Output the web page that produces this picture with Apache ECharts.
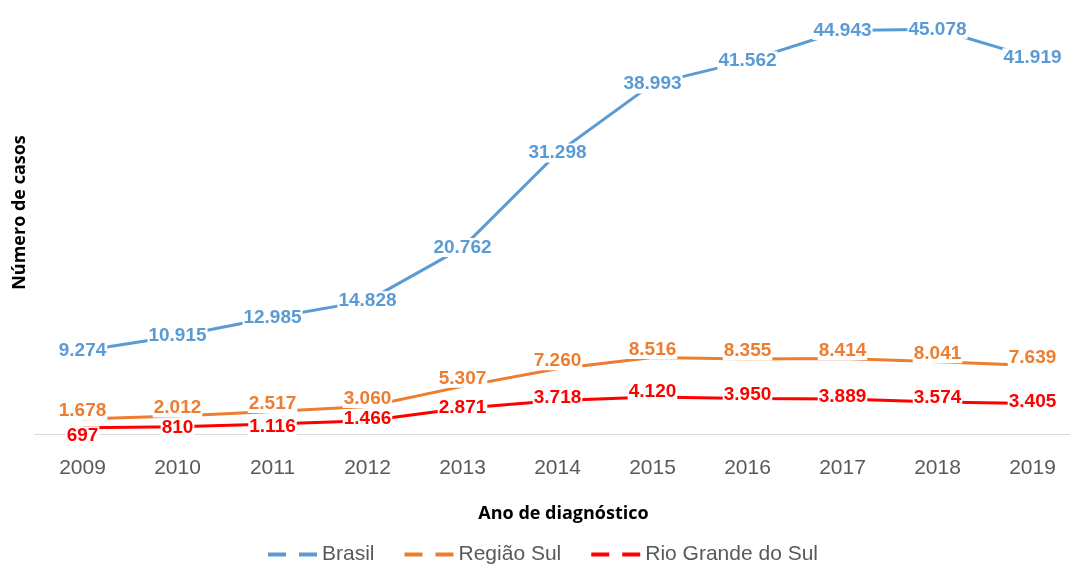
<!DOCTYPE html>
<html>
<head>
<meta charset="utf-8">
<script src="https://cdn.jsdelivr.net/npm/echarts@6/dist/echarts.min.js"></script>
<style>
  html, body { margin: 0; padding: 0; background: #fff; }
  #chart { width: 1070px; height: 567px; }
</style>
</head>
<body>
<div id="chart"></div>
<script>
// dados
var anos = ['2009', '2010', '2011', '2012', '2013', '2014', '2015', '2016', '2017', '2018', '2019'];
var brasil = [9274, 10915, 12985, 14828, 20762, 31298, 38993, 41562, 44943, 45078, 41919];
var regiaoSul = [1678, 2012, 2517, 3060, 5307, 7260, 8516, 8355, 8414, 8041, 7639];
var rioGrandeSul = [697, 810, 1116, 1466, 2871, 3718, 4120, 3950, 3889, 3574, 3405];

function fmt(v) {
  return String(v).replace(/\B(?=(\d{3})+(?!\d))/g, '.');
}

function serie(nome, dados, cor, z, layout) {
  return {
    name: nome,
    type: 'line',
    data: dados,
    symbol: 'circle',
    symbolSize: 0.1,
    showSymbol: true,
    z: z,
    lineStyle: { color: cor, width: 3 },
    itemStyle: { color: cor },
    label: {
      show: true,
      position: 'inside',
      formatter: function (p) { return fmt(p.value); },
      color: cor,
      fontFamily: 'Liberation Sans, Arial, sans-serif',
      fontWeight: 'bold',
      fontSize: 19,
      backgroundColor: '#fff',
      padding: [0, 1]
    },
    labelLayout: layout
  };
}

var legendIcon = 'path://M0,0 h18 v4 h-18z M31,0 h18 v4 h-18z';
// ajuste vertical dos rótulos do RS (evita sobrepor a Região Sul)
var ajusteRS = [8, 1, 3, -2, 0, -3, -5, -4, -2, -4, -2];

var chart = echarts.init(document.getElementById('chart'));
chart.setOption({
  animation: false,
  grid: { left: 35, width: 1045, top: 21, bottom: 133, outerBoundsMode: 'none' },
  xAxis: {
    type: 'category',
    data: anos,
    boundaryGap: true,
    axisLine: { lineStyle: { color: '#d9d9d9', width: 1 } },
    axisTick: { show: false },
    axisLabel: { color: '#595959', fontSize: 21, fontFamily: 'Liberation Sans, Arial, sans-serif', margin: 24 },
    name: 'Ano de diagnóstico',
    nameLocation: 'middle',
    nameGap: 71,
    nameTextStyle: { color: '#000', fontWeight: 'bold', fontSize: 18, fontFamily: 'Open Sans, sans-serif', padding: [0, 0, 0, 12] }
  },
  yAxis: {
    type: 'value',
    min: 0,
    max: 46000,
    axisLine: { show: false },
    axisTick: { show: false },
    axisLabel: { show: false },
    splitLine: { show: false },
    name: 'Número de casos',
    nameLocation: 'middle',
    nameRotate: 90,
    nameGap: 6,
    nameTextStyle: { color: '#000', fontWeight: 'bold', fontSize: 18, fontFamily: 'Open Sans, sans-serif', padding: [0, 0, 0, 30] }
  },
  legend: {
    top: 544,
    left: 268,
    padding: 0,
    itemWidth: 49,
    itemHeight: 4,
    itemGap: 30,
    icon: legendIcon,
    textStyle: { color: '#595959', fontSize: 21, fontFamily: 'Liberation Sans, Arial, sans-serif' },
    data: ['Brasil', 'Região Sul', 'Rio Grande do Sul']
  },
  series: [
    serie('Brasil', brasil, '#5b9bd5', 2, { hideOverlap: false }),
    serie('Região Sul', regiaoSul, '#ed7d31', 3, { hideOverlap: false, dy: -8 }),
    serie('Rio Grande do Sul', rioGrandeSul, '#ff0000', 4, function (p) {
      return { hideOverlap: false, dy: ajusteRS[p.dataIndex] };
    })
  ]
});
</script>
</body>
</html>
